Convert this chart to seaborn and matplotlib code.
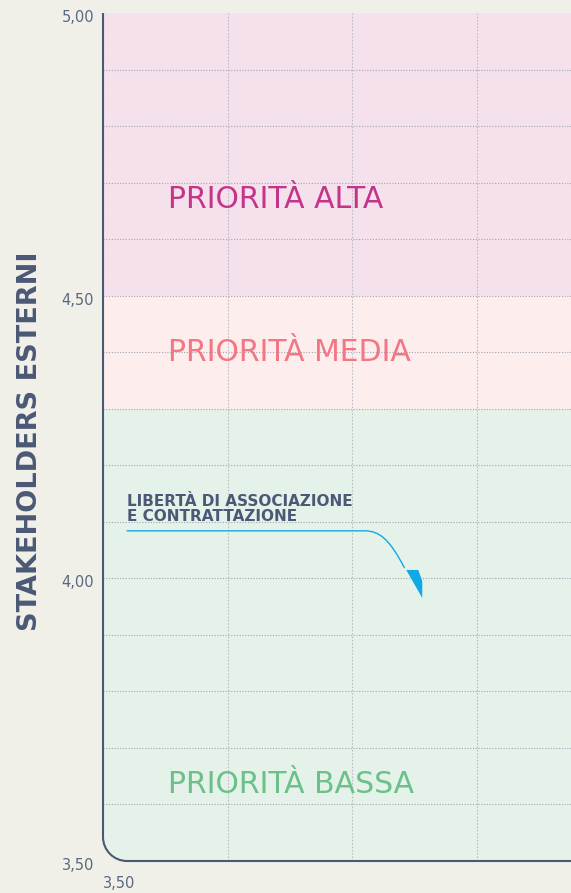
import numpy as np
import matplotlib
matplotlib.use("Agg")
import matplotlib.pyplot as plt
import matplotlib.transforms as mtransforms
import seaborn as sns
import pandas as pd
from matplotlib.path import Path
from matplotlib.patches import PathPatch

# ---------------- data ----------------
topics = ["LIBERTÀ DI ASSOCIAZIONE\nE CONTRATTAZIONE"]
x_internal = [3.75]      # x value of the topic
y_external = [3.99]      # stakeholders esterni value
label_x = [3.519]        # where the label/leader line starts
label_y = [4.084]

bands_lo = [4.50, 4.30, 3.50]
bands_hi = [5.00, 4.50, 4.30]
band_names = ["PRIORITÀ ALTA", "PRIORITÀ MEDIA", "PRIORITÀ BASSA"]
band_text_y = [4.6546, 4.385, 3.6196]
band_fill = ["#f5e1ec", "#fdeeed", "#e5f2e9"]
band_text_col = ["#c4358a", "#f27683", "#6cc08a"]

y_ticks = [3.5, 3.6, 3.7, 3.8, 3.9, 4.0, 4.1, 4.2, 4.3, 4.4, 4.5, 4.6, 4.7, 4.8, 4.9, 5.0]
y_labels = ["3,50", "", "", "", "", "4,00", "", "", "", "", "4,50", "", "", "", "", "5,00"]
x_ticks = [3.5, 3.6, 3.7, 3.8]
x_labels = ["3,50", "", "", ""]

BG = "#f1f0e8"
SLATE = "#4b5876"
CYAN = "#10a9e6"

sns.set_theme(style="white")
plt.rcParams["font.family"] = ["DejaVu Sans"]

fig = plt.figure(figsize=(5.71, 8.93), dpi=100, facecolor=BG)
W, H = 571, 893
ax_left, ax_right, ax_top, ax_bot = 103, 571, 13, 861
ax = fig.add_axes([ax_left / W, 1 - ax_bot / H, (ax_right - ax_left) / W, (ax_bot - ax_top) / H])
ax.set_facecolor("none")
ax.set_xlim(3.5, 3.5 + (ax_right - ax_left) / 1245.0)
ax.set_ylim(3.5, 5.0)
for s in ax.spines.values():
    s.set_visible(False)

# rounded-corner clip path (axes coords)
rx = 24 / (ax_right - ax_left)
ry = 24 / (ax_bot - ax_top)
k = 0.5523
clip_verts = [(0, 1), (0, ry), (0, ry * (1 - k)), (rx * (1 - k), 0), (rx, 0), (1.5, 0), (1.5, 1), (0, 1)]
clip_codes = [Path.MOVETO, Path.LINETO, Path.CURVE4, Path.CURVE4, Path.CURVE4, Path.LINETO, Path.LINETO, Path.CLOSEPOLY]
clip_patch = PathPatch(Path(clip_verts, clip_codes), transform=ax.transAxes, facecolor="none", edgecolor="none")
ax.add_patch(clip_patch)

for lo, hi, fc in zip(bands_lo, bands_hi, band_fill):
    sp = ax.axhspan(lo, hi, color=fc, lw=0, zorder=0)
    sp.set_clip_path(clip_patch)

# grid
ax.set_yticks(y_ticks)
ax.set_yticklabels(y_labels)
ax.set_xticks(x_ticks)
ax.set_xticklabels(x_labels, ha="left")
ax.tick_params(axis="both", length=0, colors="#5b6882", labelsize=10.5)
ax.tick_params(axis="y", pad=6.5)
ax.tick_params(axis="x", pad=11)
ax.yaxis.grid(True, color="#a2a2b0", linestyle=(0, (1, 1.5)), lw=0.8)
ax.xaxis.grid(True, color="#bcbcc6", linestyle=(0, (1.5, 1.5)), lw=0.8)
ax.set_axisbelow(True)
for gl in ax.get_xgridlines() + ax.get_ygridlines():
    gl.set_clip_path(clip_patch)
ax.get_ygridlines()[-1].set_visible(False)

off = mtransforms.ScaledTranslation(0, -3 / 100, fig.dpi_scale_trans)
for lab in ax.get_yticklabels():
    lab.set_transform(lab.get_transform() + off)

# axis line with rounded corner
sp_verts = [(0, 1), (0, ry), (0, ry * (1 - k)), (rx * (1 - k), 0), (rx, 0), (1, 0)]
sp_codes = [Path.MOVETO, Path.LINETO, Path.CURVE4, Path.CURVE4, Path.CURVE4, Path.LINETO]
ax.add_patch(PathPatch(Path(sp_verts, sp_codes), transform=ax.transAxes, facecolor="none",
                       edgecolor=SLATE, lw=1.5, clip_on=False, zorder=5))

# band labels
for name, ty, col in zip(band_names, band_text_y, band_text_col):
    ax.text(3.5 + 65 / 1245.0, ty, name, color=col, fontsize=21.5, va="baseline", ha="left", zorder=3)

# points
df = pd.DataFrame({"x": x_internal, "y": y_external, "topic": topics})
marker_path = Path([(-8, 14), (4, 14), (8, 3), (8, -14), (-8, 14)],
                   [Path.MOVETO, Path.LINETO, Path.LINETO, Path.LINETO, Path.CLOSEPOLY])
sns.scatterplot(data=df, x="x", y="y", ax=ax, marker=marker_path, s=20.2 ** 2,
                color=CYAN, edgecolor="none", zorder=6, legend=False)

# leader lines + labels
for t, px, py, lx, ly in zip(topics, x_internal, y_external, label_x, label_y):
    ex, ey = px - 0.0078, py + 0.0283
    p1 = (px - 0.0400, ly)
    c1 = (px - 0.0280, ly)
    c2 = (px - 0.0200, ly - 0.0142)
    lp = Path([(lx, ly), p1, c1, c2, (ex, ey)],
              [Path.MOVETO, Path.LINETO, Path.CURVE4, Path.CURVE4, Path.CURVE4])
    ax.add_patch(PathPatch(lp, facecolor="none", edgecolor=CYAN, lw=1.0, zorder=5))
    ax.text(lx, ly + 0.0115, t, color=SLATE, fontsize=11, fontweight="bold",
            ha="left", va="bottom", linespacing=1.0, zorder=6)

ax.set_xlabel("")
ax.set_ylabel("")
fig.text(30 / W, 1 - 441 / H, "STAKEHOLDERS ESTERNI", rotation=90, color=SLATE,
         fontsize=19.5, fontweight="bold", ha="center", va="center")

fig.savefig("out.png", dpi=100, facecolor=BG)
